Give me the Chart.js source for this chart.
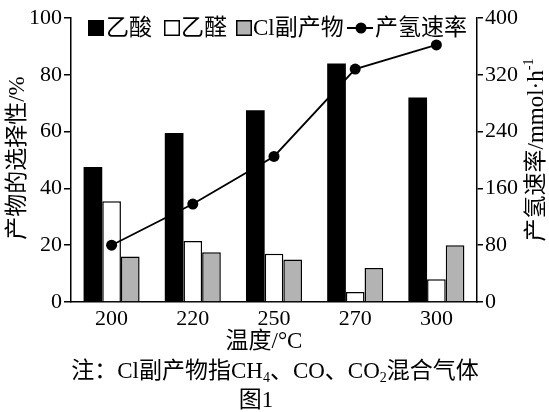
<!DOCTYPE html>
<html>
<head>
<meta charset="utf-8">
<script src="https://cdn.jsdelivr.net/npm/chart.js@4.4.0/dist/chart.umd.min.js"></script>
<style>
  html, body { margin: 0; padding: 0; background: #fff; }
  #wrap { width: 549px; height: 412px; }
</style>
</head>
<body>
<div id="wrap"><canvas id="chart" width="549" height="412"></canvas></div>
<script>
// data
var temps = ['200', '220', '250', '270', '300'];
var aceticAcid = [47.5, 59.5, 67.5, 84, 72];      // 乙酸 (%)
var acetaldehyde = [35.5, 21.5, 17, 3.5, 8];      // 乙醛 (%)
var c1Products = [16, 17.5, 15, 12, 20];          // C1副产物 (%)
var h2Rate = [80, 138, 205, 328, 362];            // 产氢速率 (mmol/h)
var selRange = [0, 100, 20];                      // left axis min, max, step
var rateRange = [0, 400, 80];                     // right axis min, max, step

var SERIF = "'Liberation Serif', 'Noto Sans CJK SC', serif";
function font(size) { return size + 'px ' + SERIF; }

// draw a run of text pieces [text, size, dy] starting at x (or centred on x)
function drawRich(ctx, parts, x, y, centred) {
    var total = 0;
    parts.forEach(function (p) {
        ctx.font = font(p[1]);
        p.w = ctx.measureText(p[0]).width;
        total += p.w;
    });
    var cx = centred ? x - total / 2 : x;
    parts.forEach(function (p) {
        ctx.font = font(p[1]);
        ctx.fillText(p[0], cx, y + (p[2] || 0));
        cx += p.w;
    });
}

var textPlugin = {
    id: 'textPlugin',
    afterDraw: function (chart) {
        var ctx = chart.ctx;
        var ds = chart.data.datasets;
        ctx.save();
        ctx.fillStyle = '#000';
        ctx.textAlign = 'left';
        ctx.textBaseline = 'middle';

        // legend
        var ly = 28;
        var boxes = [[88, 106, 0], [164, 181, 1], [236, 253, 2]];
        boxes.forEach(function (b) {
            var d = ds[b[2]];
            ctx.fillStyle = d.backgroundColor;
            ctx.fillRect(b[0], ly - 8, 16, 16);
            ctx.strokeStyle = '#000';
            ctx.lineWidth = 1.5;
            ctx.strokeRect(b[0] + 0.75, ly - 7.25, 14.5, 14.5);
            ctx.fillStyle = '#000';
            drawRich(ctx, [[d.label, 23]], b[1], ly + 1, false);
        });
        ctx.strokeStyle = ds[3].borderColor;
        ctx.lineWidth = 2;
        ctx.beginPath();
        ctx.moveTo(347, ly);
        ctx.lineTo(373, ly);
        ctx.stroke();
        ctx.beginPath();
        ctx.arc(361, ly, 5.5, 0, Math.PI * 2);
        ctx.fill();
        drawRich(ctx, [[ds[3].label, 23]], 375, ly + 1, false);

        // left axis title
        ctx.save();
        ctx.translate(18, 158);
        ctx.rotate(-Math.PI / 2);
        drawRich(ctx, [['产物的选择性/%', 23]], 0, 0, true);
        ctx.restore();

        // right axis title
        ctx.save();
        ctx.translate(537, 150);
        ctx.rotate(-Math.PI / 2);
        drawRich(ctx, [['产氢速率/mmol·h', 23], ['-1', 14, -8]], 0, 0, true);
        ctx.restore();

        // x axis title, note and figure label
        drawRich(ctx, [['温度/°C', 23]], 264, 342, true);
        drawRich(ctx, [
            ['注：Cl副产物指CH', 23], ['4', 14, 6], ['、CO、CO', 23], ['2', 14, 6], ['混合气体', 23]
        ], 275, 372, true);
        drawRich(ctx, [['图1', 23]], 256, 401, true);
        ctx.restore();
    }
};

var tickFont = { family: 'Liberation Serif', size: 22 };

var ctx = document.getElementById('chart').getContext('2d');
var chart = new Chart(ctx, {
    data: {
        labels: temps,
        datasets: [
            { type: 'bar', label: '乙酸', data: aceticAcid, yAxisID: 'y',
              backgroundColor: '#000', borderColor: '#000', borderWidth: 0, order: 1 },
            { type: 'bar', label: '乙醛', data: acetaldehyde, yAxisID: 'y',
              backgroundColor: '#fff', borderColor: '#000', borderWidth: 1.5, order: 1 },
            { type: 'bar', label: 'Cl副产物', data: c1Products, yAxisID: 'y',
              backgroundColor: '#b3b3b3', borderColor: '#000', borderWidth: 1.5, order: 1 },
            { type: 'line', label: '产氢速率', data: h2Rate, yAxisID: 'y1',
              borderColor: '#000', backgroundColor: '#000', borderWidth: 1.8,
              pointRadius: 5.5, pointBackgroundColor: '#000', pointBorderWidth: 0,
              tension: 0, order: 0 }
        ]
    },
    options: {
        responsive: false,
        animation: false,
        devicePixelRatio: 1,
        layout: { padding: { top: 18, left: 0, right: 0, bottom: 0 } },
        datasets: { bar: { categoryPercentage: 0.69, barPercentage: 1.0 } },
        plugins: { legend: { display: false }, tooltip: { enabled: false } },
        scales: {
            x: {
                z: 1,
                grid: { display: false, drawTicks: false },
                border: { display: true, color: '#000', width: 1.5 },
                ticks: { font: tickFont, color: '#000', padding: 4 },
                afterFit: function (s) { s.height = 110; }
            },
            y: {
                position: 'left',
                min: selRange[0], max: selRange[1],
                ticks: { stepSize: selRange[2], font: tickFont, color: '#000', padding: 2 },
                grid: { drawOnChartArea: false, drawTicks: true, tickLength: 7, color: '#000', lineWidth: 1.5 },
                border: { display: true, color: '#000', width: 1.5 },
                afterFit: function (s) { s.width = 71; }
            },
            y1: {
                position: 'right',
                min: rateRange[0], max: rateRange[1],
                ticks: { stepSize: rateRange[2], font: tickFont, color: '#000', padding: 2 },
                grid: { drawOnChartArea: false, drawTicks: true, tickLength: 6, color: '#000', lineWidth: 1.5 },
                border: { display: true, color: '#000', width: 1.5 },
                afterFit: function (s) { s.width = 72; }
            }
        }
    },
    plugins: [textPlugin]
});
</script>
</body>
</html>
